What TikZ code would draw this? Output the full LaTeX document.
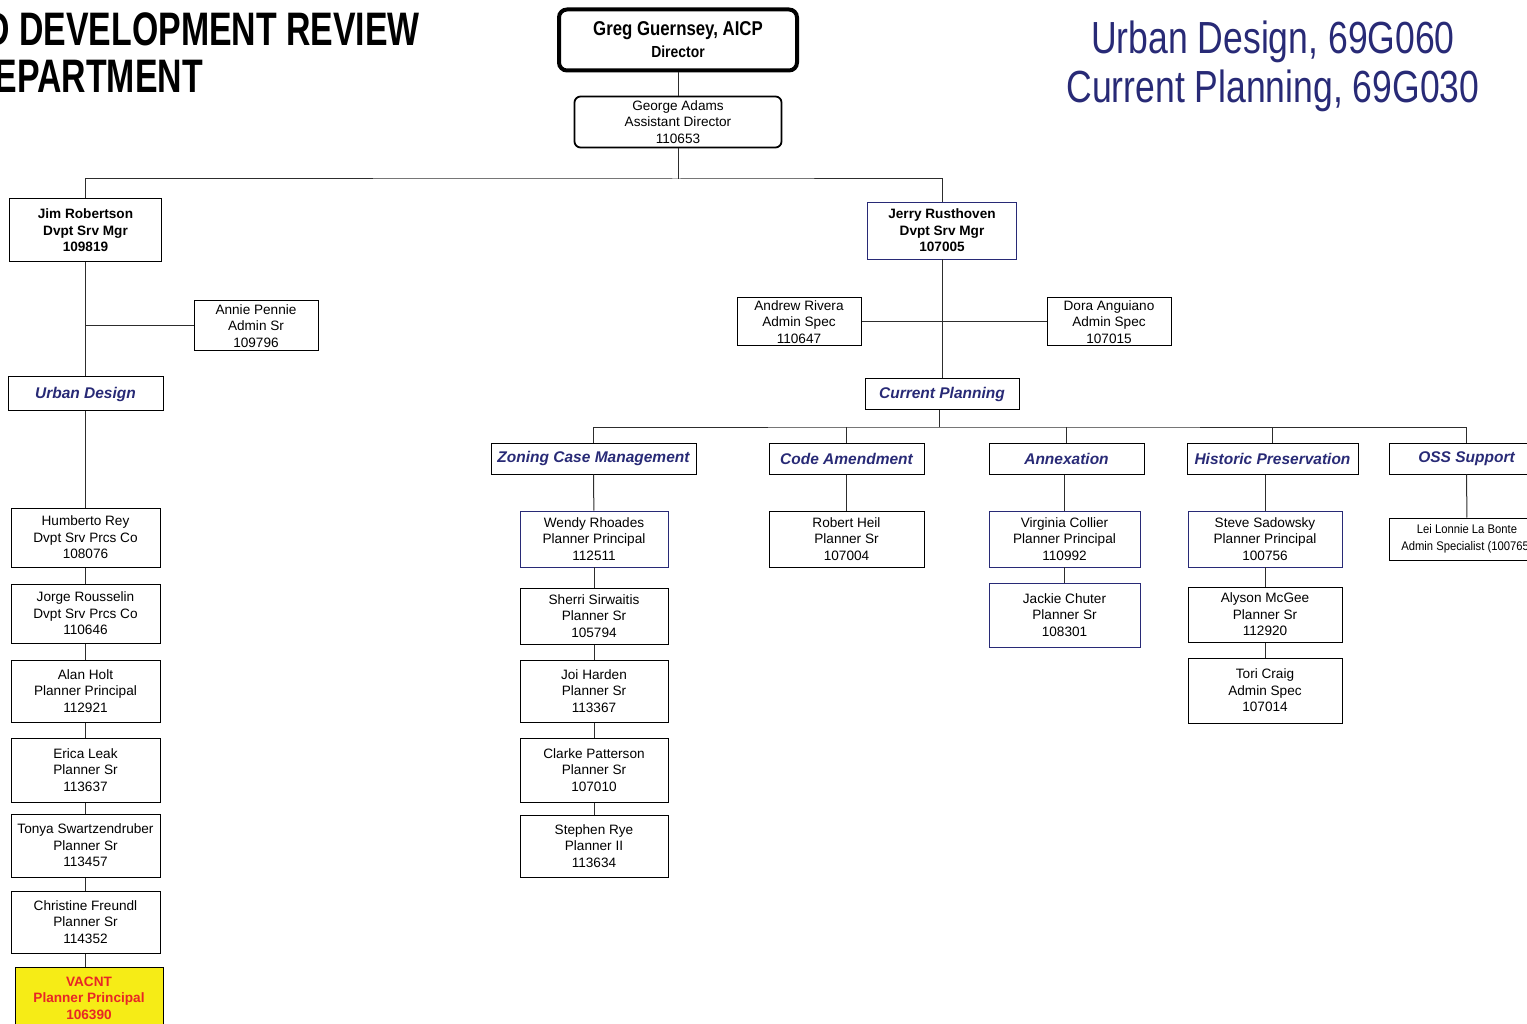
\documentclass[tikz,border=0pt]{standalone}
\usepackage{fontspec}
\setmainfont{Liberation Sans}
\usepackage{graphicx}
\definecolor{marine}{RGB}{40,42,118}
\definecolor{jaune}{RGB}{246,236,22}
\definecolor{rouge}{RGB}{232,38,38}
\definecolor{trait}{RGB}{45,45,45}
\begin{document}
\begin{tikzpicture}[x=1pt,y=-1pt,
    poste/.style={draw=black,line width=1pt,inner sep=0pt,align=center,
      minimum width=149pt,minimum height=60pt,font=\fontsize{13.6}{16.5}\selectfont},
    bleu/.style={draw=marine,line width=0.9pt},
    chef/.style={poste,font=\bfseries\fontsize{13.6}{16.5}\selectfont},
    entete/.style={draw=black,line width=1pt,inner sep=0pt,minimum width=155pt,
      minimum height=31pt,text=marine,font=\bfseries\itshape\fontsize{15.5}{18}\selectfont},
    titre/.style={anchor=base east,inner sep=0pt,font=\bfseries\fontsize{47}{50}\selectfont},
    lien/.style={draw=trait,line width=1pt}]
\useasboundingbox (0,0) rectangle (1527,1024);
% titres
\node[titre] (titreA) at (420,46) {\scalebox{0.72}[1]{D DEVELOPMENT REVIEW}};
\node[titre] (titreB) at (203,93) {\scalebox{0.72}[1]{EPARTMENT}};
\node[text=marine,align=center,font=\fontsize{45}{49}\selectfont] (codes) at (1273,66) {\scalebox{0.79}[1]{Urban Design, 69G060}\\\scalebox{0.79}[1]{Current Planning, 69G030}};
% direction
\node[draw=black,line width=4pt,rounded corners=8pt,minimum width=238pt,minimum height=61pt,align=center,inner sep=0pt,
  font=\bfseries\fontsize{20}{22}\selectfont] (greg) at (678,40) {\scalebox{0.84}[1]{Greg Guernsey, AICP}\\{\fontsize{16}{22}\selectfont\scalebox{0.87}[1]{Director}}};
\node[poste,line width=1.8pt,rounded corners=6pt,minimum width=207pt,minimum height=51pt] (adams) at (678,122) {George Adams\\Assistant Director\\110653};
\node[chef,minimum width=152pt,minimum height=63pt] (jim) at (85.5,230.5) {Jim Robertson\\Dvpt Srv Mgr\\109819};
\node[chef,bleu,minimum width=149pt,minimum height=57pt] (jerry) at (942,230.5) {Jerry Rusthoven\\Dvpt Srv Mgr\\107005};
\node[poste,minimum width=124pt,minimum height=50pt] (annie) at (256,326) {Annie Pennie\\Admin Sr\\109796};
\node[poste,minimum width=124pt,minimum height=48pt] (andrew) at (799,322) {Andrew Rivera\\Admin Spec\\110647};
\node[poste,minimum width=124pt,minimum height=48pt] (dora) at (1109,322) {Dora Anguiano\\Admin Spec\\107015};
\node[entete,minimum height=34pt] (urbain) at (85.5,394) {Urban Design};
\node[entete,minimum width=154pt] (courant) at (942,394.5) {Current Planning};
% groupes
\node[entete,minimum width=205pt] (zcm) at (593.5,458.5) {Zoning Case Management};
\node[entete] (code) at (846.5,458.5) {Code Amendment};
\node[entete] (annex) at (1066.5,458.5) {Annexation};
\node[entete,minimum width=171pt] (hist) at (1272.5,458.5) {Historic Preservation};
\node[entete] (oss) at (1466.5,458.5) {OSS Support};
% colonne Urban Design
\node[poste,minimum height=59pt] (rey) at (85.5,537.5) {Humberto Rey\\Dvpt Srv Prcs Co\\108076};
\node[poste,minimum height=59pt] (rousselin) at (85.5,613.5) {Jorge Rousselin\\Dvpt Srv Prcs Co\\110646};
\node[poste,minimum height=62pt] (holt) at (85.5,691) {Alan Holt\\Planner Principal\\112921};
\node[poste,minimum height=64pt] (leak) at (85.5,770) {Erica Leak\\Planner Sr\\113637};
\node[poste,minimum height=63pt] (swartz) at (85.5,845.5) {Tonya Swartzendruber\\Planner Sr\\113457};
\node[poste,minimum height=62pt] (freundl) at (85.5,922) {Christine Freundl\\Planner Sr\\114352};
\node[poste,fill=jaune,text=rouge,font=\bfseries\fontsize{13.6}{16.5}\selectfont,minimum width=148pt,minimum height=62pt] (vacant) at (89,998) {VACNT\\Planner Principal\\106390};
% colonne Zoning
\node[poste,bleu,minimum width=148pt,minimum height=56pt] (rhoades) at (594,539) {Wendy Rhoades\\Planner Principal\\112511};
\node[poste,minimum width=148pt,minimum height=56pt] (sirwaitis) at (594,616) {Sherri Sirwaitis\\Planner Sr\\105794};
\node[poste,minimum width=148pt,minimum height=62pt] (harden) at (594,691) {Joi Harden\\Planner Sr\\113367};
\node[poste,minimum width=148pt,minimum height=64pt] (patterson) at (594,770) {Clarke Patterson\\Planner Sr\\107010};
\node[poste,minimum width=148pt,minimum height=62pt] (rye) at (594,846) {Stephen Rye\\Planner II\\113634};
% autres colonnes
\node[poste,minimum width=155pt,minimum height=56pt] (heil) at (846.5,539) {Robert Heil\\Planner Sr\\107004};
\node[poste,bleu,minimum width=151pt,minimum height=56pt] (collier) at (1064.5,539) {Virginia Collier\\Planner Principal\\110992};
\node[poste,bleu,minimum width=151pt,minimum height=64pt] (chuter) at (1064.5,615) {Jackie Chuter\\Planner Sr\\108301};
\node[poste,bleu,minimum width=154pt,minimum height=56pt] (sadowsky) at (1265,539) {Steve Sadowsky\\Planner Principal\\100756};
\node[poste,minimum width=154pt,minimum height=55pt] (mcgee) at (1265,614.5) {Alyson McGee\\Planner Sr\\112920};
\node[poste,minimum width=154pt,minimum height=65pt] (craig) at (1265,690.5) {Tori Craig\\Admin Spec\\107014};
\node[poste,minimum width=156pt,minimum height=42pt,font=\fontsize{12.5}{17}\selectfont] (lei) at (1467,539) {\scalebox{0.9}[1]{Lei Lonnie La Bonte}\\\scalebox{0.9}[1]{Admin Specialist (100765)}};
% liens
\coordinate (bus1) at (678,179);
\coordinate (bus2) at (939,427);
\draw[lien] (greg) -- (adams);
\draw[lien] (adams) -- (bus1);
\draw[lien] (jim.north) |- (bus1) -| (jerry.north);
\draw[lien] (jim) -- (urbain);
\draw[lien] (annie.west) -- (annie.west -| jim.south);
\draw[lien] (urbain) -- (rey);
\foreach \a/\b in {rey/rousselin,rousselin/holt,holt/leak,leak/swartz,swartz/freundl,
    rhoades/sirwaitis,sirwaitis/harden,harden/patterson,patterson/rye,
    collier/chuter,sadowsky/mcgee,mcgee/craig}
  \draw[lien] (\a) -- (\b);
\draw[lien] (freundl.south) -- (freundl.south |- vacant.north);
\draw[lien] (jerry) -- (courant);
\draw[lien] (andrew) -- (dora);
\draw[lien] (courant.south -| bus2) -- (bus2);
\draw[lien] (zcm.north) |- (bus2) -| (oss.north);
\foreach \g in {code,annex,hist}
  \draw[lien] (\g.north) -- (\g.north |- bus2);
\draw[lien] (zcm) -- (rhoades);
\draw[lien] (code) -- (heil);
\draw[lien] (collier.north) -- (collier.north |- annex.south);
\draw[lien] (sadowsky.north) -- (sadowsky.north |- hist.south);
\draw[lien] (oss) -- (lei);
\end{tikzpicture}
\end{document}
